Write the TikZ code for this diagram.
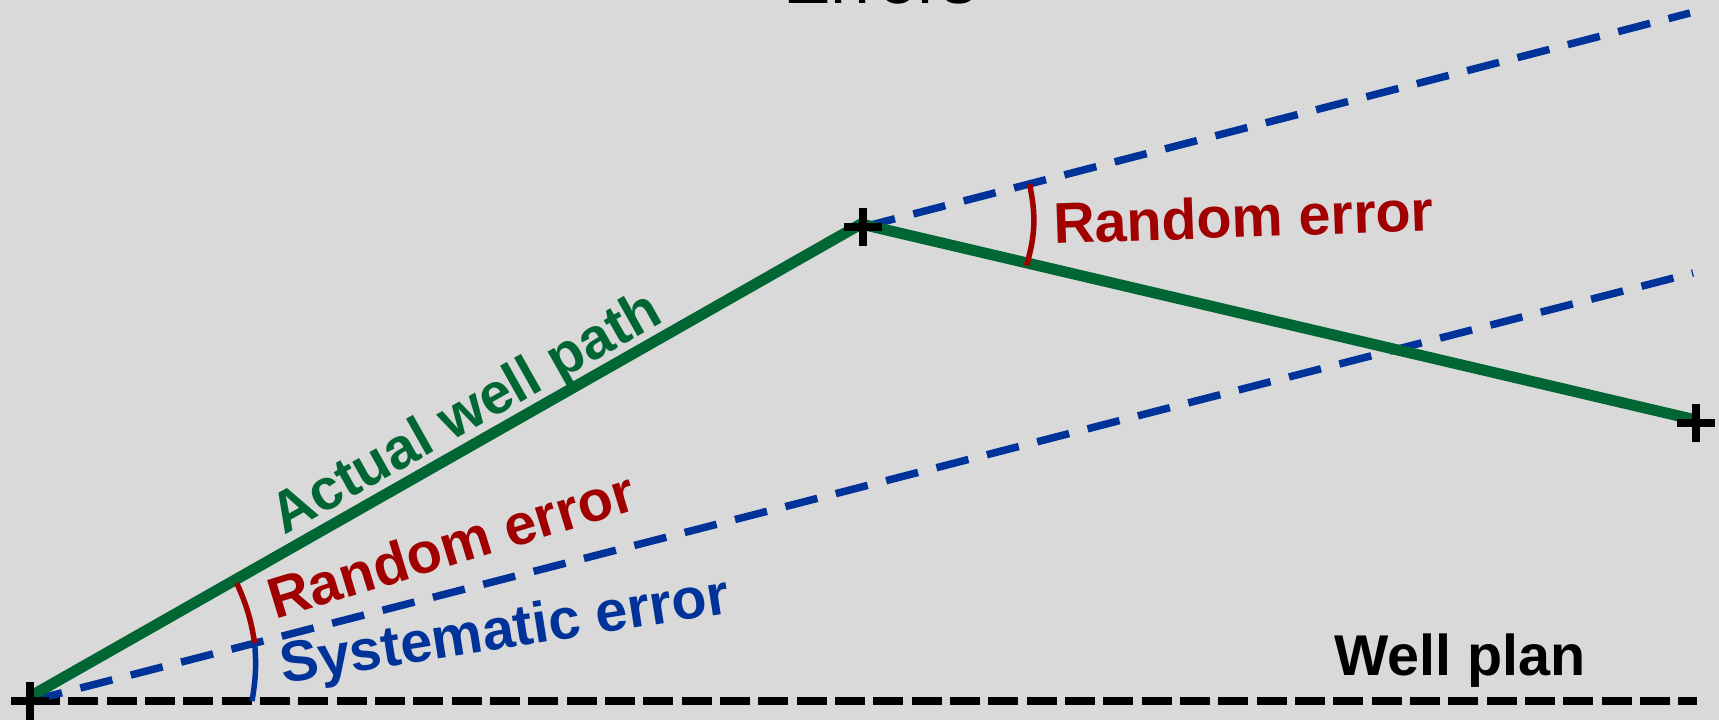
\documentclass[tikz,border=0pt]{standalone}
\usepackage{fontspec}
\setmainfont{Liberation Sans}
\usetikzlibrary{calc}
\definecolor{bg}{HTML}{D9D9D9}
\definecolor{wgreen}{HTML}{006633}
\definecolor{wred}{HTML}{A00000}
\definecolor{wblue}{HTML}{003399}
\begin{document}
\begin{tikzpicture}[x=1pt,y=-1pt,
  lbl/.style={font=\bfseries\fontsize{57.5}{60}\selectfont, inner sep=0pt, anchor=base west},
  plusmark/.style={inner sep=0pt, minimum size=37pt},
  plusline/.style={line width=7.5pt, black},
  pathline/.style={wgreen, line width=11pt},
  sysline/.style={wblue, line width=7.5pt, dash pattern=on 33pt off 19pt},
  planline/.style={black, line width=8pt, dash pattern=on 30pt off 8.33pt},
  errarc/.style={line width=5.5pt}]
\useasboundingbox (0,0) rectangle (1719,720);
\fill[bg] (0,0) rectangle (1719,720);
\clip (0,0) rectangle (1719,720);
% marks and end points
\node[plusmark] (o) at (30,701) {};
\node[plusmark] (k) at (863,227) {};
\node[plusmark] (e) at (1696,423) {};
\coordinate (wp) at (1697,701);
\coordinate (s1) at (1693,273);
\coordinate (s2) at (1690,13);
% lines
\draw[planline] (o.center) -- (wp);
\draw[sysline] (o.center) -- (s1);
\draw[sysline] (k.center) -- (s2);
\draw[pathline] ($(o.center)+(1,-5)$) -- ($(k.center)+(-2,-3)$) -- ($(e.center)+(0,-3)$);
% angle arcs
\draw[errarc, wred] ($(o.center)!238pt!(k.center)$) to[bend left=7.5] ($(o.center)!232pt!(s1)$);
\draw[errarc, wblue] ($(o.center)!232pt!(s1)$) to[bend left=7] ($(o.center)!222pt!(wp)$);
\draw[errarc, wred] ($(k.center)!172pt!(s2)$) to[bend left=14] ($(k.center)!168pt!(e.center)$);
% crosses
\foreach \n in {o,k,e} {
  \draw[plusline] (\n.north) -- (\n.south) (\n.west) -- (\n.east);
}
% labels
\node[lbl, wgreen, rotate=29.4] (t1) at (284,536) {Actual well path};
\node[lbl, wred, rotate=17] (t2) at (275,620) {Random error};
\node[lbl, wblue, rotate=9] (t3) at (283,684) {Systematic error};
\node[lbl, wred, rotate=2] (t4) at (1054,244) {Random error};
\node[lbl, black] (t5) at (1334,675) {Well plan};
\node[font=\fontsize{71}{75}\selectfont, inner sep=0pt, anchor=base] (title) at (880,3) {Errors};
\end{tikzpicture}
\end{document}
